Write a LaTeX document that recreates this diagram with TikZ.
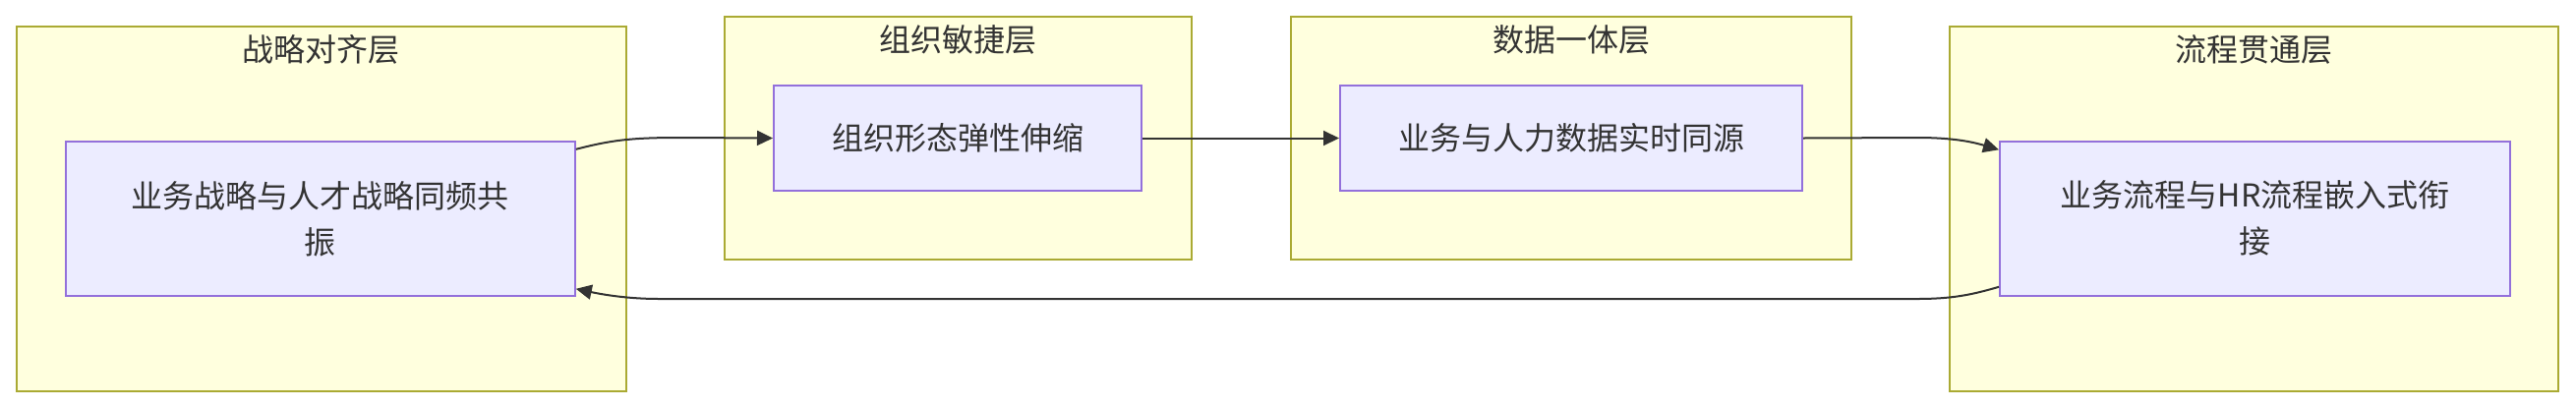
\documentclass[tikz,border=0pt]{standalone}
\usepackage{fontspec}
\setmainfont{Noto Sans CJK SC}
\usetikzlibrary{arrows.meta,calc}
\definecolor{clfill}{HTML}{FFFFDE}
\definecolor{cldraw}{HTML}{AAAA33}
\definecolor{ndfill}{HTML}{ECECFF}
\definecolor{nddraw}{HTML}{9370DB}
\definecolor{txt}{HTML}{333333}
\tikzset{
  cluster/.style={draw=cldraw, fill=clfill, line width=1pt},
  cltitle/.style={text=txt, inner sep=0pt, font=\fontsize{16}{23.5}\selectfont},
  box/.style={draw=nddraw, fill=ndfill, line width=1pt, text=txt, align=center,
    inner sep=0pt, font=\fontsize{16}{23.5}\selectfont},
  edge/.style={draw=txt, line width=1pt, -{Triangle[length=8pt,width=7.5pt]}},
}
\begin{document}
\begin{tikzpicture}[x=0.5pt,y=-0.5pt]
\useasboundingbox (0,0) rectangle (2620,414);
% clusters
\draw[cluster] (16.7,26.7) rectangle (636.7,397.7);
\draw[cluster] (737,16.7) rectangle (1211.5,264);
\draw[cluster] (1313,16.7) rectangle (1883,264);
\draw[cluster] (1983,26.7) rectangle (2602,397.7);
\node[cltitle] (t1) at (326.7,50) {战略对齐层};
\node[cltitle] (t2) at (974.2,40) {组织敏捷层};
\node[cltitle] (t3) at (1598,40) {数据一体层};
\node[cltitle] (t4) at (2292.5,50) {流程贯通层};
% nodes
\node[box, minimum width=259pt, minimum height=78.5pt] (A) at (325.8,222.3) {业务战略与人才战略同频共\\振};
\node[box, minimum width=187pt, minimum height=53.5pt] (B) at (974,140.5) {组织形态弹性伸缩};
\node[box, minimum width=235pt, minimum height=53.5pt] (C) at (1598,140.5) {业务与人力数据实时同源};
\node[box, minimum width=259.5pt, minimum height=78.5pt] (D) at (2293.5,222.3) {业务流程与HR流程嵌入式衔\\接};
% edges
\draw[edge] ($(A.north east)+(0,9)$) .. controls (620,143) and (640,140) .. (690,140) -- (B.west);
\draw[edge] (B.east) -- (C.west);
\draw[edge] (C.east) -- (1950,140) .. controls (1985,140) and (2005,144) .. ($(D.north west)+(0,9.5)$);
\draw[edge] ($(D.south west)+(0,-10)$) .. controls (2005,300) and (1985,304) .. (1950,304) -- (670,304) .. controls (640,304) and (615,300) .. ($(A.south east)+(0,-8)$);
\end{tikzpicture}
\end{document}
